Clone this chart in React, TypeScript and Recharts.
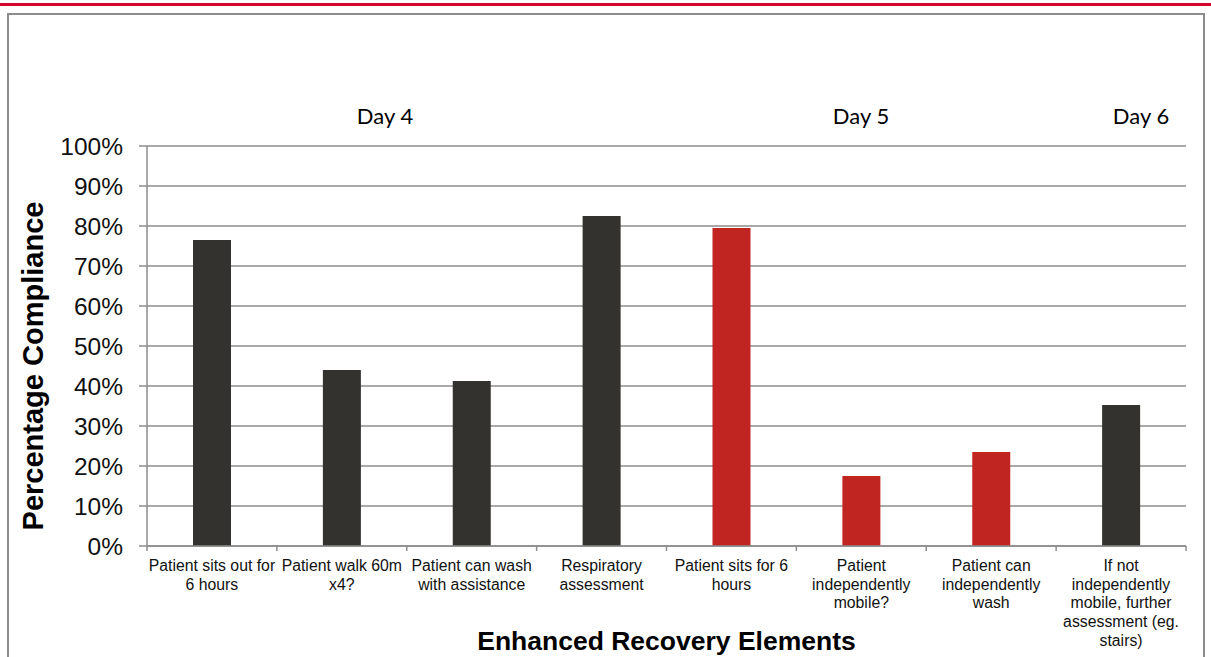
import React from 'react';
import { BarChart, Bar, Cell, XAxis, YAxis, CartesianGrid } from 'recharts';

// Compliance per enhanced-recovery element, grouped by post-op day
const categories = [
  'Patient sits out for 6 hours',
  'Patient walk 60m x4?',
  'Patient can wash with assistance',
  'Respiratory assessment',
  'Patient sits for 6 hours',
  'Patient independently mobile?',
  'Patient can independently wash',
  'If not independently mobile, further assessment (eg. stairs)',
];
const tickLines = [
  ['Patient sits out for', '6 hours'],
  ['Patient walk 60m', 'x4?'],
  ['Patient can wash', 'with assistance'],
  ['Respiratory', 'assessment'],
  ['Patient sits for 6', 'hours'],
  ['Patient', 'independently', 'mobile?'],
  ['Patient can', 'independently', 'wash'],
  ['If not', 'independently', 'mobile, further', 'assessment (eg.', 'stairs)'],
];
const compliance = [76.5, 44, 41.25, 82.5, 79.5, 17.5, 23.5, 35.25];
const day = ['Day 4', 'Day 4', 'Day 4', 'Day 4', 'Day 5', 'Day 5', 'Day 5', 'Day 6'];
const yTicks = [0, 10, 20, 30, 40, 50, 60, 70, 80, 90, 100];

const DAY_COLORS: Record<string, string> = {
  'Day 4': '#33322e',
  'Day 5': '#c02522',
  'Day 6': '#33322e',
};

const data = categories.map((name, i) => ({ name, value: compliance[i], day: day[i] }));

const W = 1211;
const H = 657;
const PLOT_LEFT = 147;
const PLOT_RIGHT = 1186;
const PLOT_TOP = 146;
const PLOT_BOTTOM = 546;
const BAND = (PLOT_RIGHT - PLOT_LEFT) / categories.length;
const GRID = '#8c8c8c';
const FONT = '"Liberation Sans", Arial, sans-serif';

const CategoryTick = (props: any) => {
  const { x, y, payload } = props;
  const idx = categories.indexOf(payload.value);
  const lines = tickLines[idx] || [payload.value];
  return (
    <g>
      <line x1={x - BAND / 2} y1={y} x2={x - BAND / 2} y2={y + 5} stroke={GRID} strokeWidth={1.5} />
      {idx === categories.length - 1 && (
        <line x1={x + BAND / 2} y1={y} x2={x + BAND / 2} y2={y + 5} stroke={GRID} strokeWidth={1.5} />
      )}
      <text x={x} y={y + 25} textAnchor="middle" fontSize={15.8} fontFamily={FONT} fill="#111">
        {lines.map((l, i) => (
          <tspan key={i} x={x} dy={i === 0 ? 0 : 18.7}>
            {l}
          </tspan>
        ))}
      </text>
    </g>
  );
};

const dayLabels = [
  { text: 'Day 4', x: 385 },
  { text: 'Day 5', x: 861 },
  { text: 'Day 6', x: 1141 },
];

export default function App() {
  return (
    <div style={{ position: 'absolute', left: 0, top: 0, width: W, height: H, background: '#fff', overflow: 'hidden' }}>
      <div style={{ position: 'absolute', left: 0, top: 3, width: W, height: 3, background: '#d4072f' }} />
      <div
        style={{
          position: 'absolute',
          left: 7,
          top: 13,
          width: 1198,
          height: 700,
          boxSizing: 'border-box',
          border: '2px solid #8c8c8c',
        }}
      />
      <BarChart
        width={W}
        height={H}
        data={data}
        margin={{ top: PLOT_TOP, right: W - PLOT_RIGHT, left: 0, bottom: 0 }}
        barSize={38}
        style={{ position: 'absolute', left: 0, top: 0 }}
      >
        <CartesianGrid vertical={false} stroke={GRID} strokeWidth={1.5} />
        <XAxis
          dataKey="name"
          interval={0}
          height={H - PLOT_BOTTOM}
          tickSize={0}
          tickMargin={0}
          axisLine={{ stroke: GRID, strokeWidth: 1.5 }}
          tick={<CategoryTick />}
          label={{
            content: (p: any) => {
              const vb = p.viewBox;
              return (
                <text
                  x={vb.x + vb.width / 2}
                  y={vb.y + 104}
                  textAnchor="middle"
                  fontSize={26.5}
                  fontWeight="bold"
                  fontFamily={FONT}
                  fill="#000"
                >
                  Enhanced Recovery Elements
                </text>
              );
            },
          }}
        />
        <YAxis
          width={PLOT_LEFT}
          domain={[0, 100]}
          ticks={yTicks}
          interval={0}
          tickFormatter={(v: number) => `${v}%`}
          tickSize={8}
          tickMargin={16}
          tickLine={{ stroke: GRID, strokeWidth: 1.5 }}
          axisLine={{ stroke: GRID, strokeWidth: 1.5 }}
          tick={{ fontSize: 24.5, fontFamily: FONT, fill: '#111' }}
          label={{
            content: (p: any) => {
              const vb = p.viewBox;
              const cx = vb.x + 43;
              const cy = vb.y + vb.height / 2 + 20;
              return (
                <text
                  x={cx}
                  y={cy}
                  transform={`rotate(-90, ${cx}, ${cy})`}
                  textAnchor="middle"
                  fontSize={29}
                  fontWeight="bold"
                  fontFamily={FONT}
                  fill="#000"
                >
                  Percentage Compliance
                </text>
              );
            },
          }}
        />
        <Bar dataKey="value" isAnimationActive={false}>
          {data.map((d, i) => (
            <Cell key={i} fill={DAY_COLORS[d.day]} />
          ))}
        </Bar>
      </BarChart>
      {dayLabels.map((d) => (
        <div
          key={d.text}
          style={{
            position: 'absolute',
            left: d.x - 60,
            width: 120,
            top: 102,
            textAlign: 'center',
            fontFamily: 'Lato, "Open Sans", sans-serif',
            fontSize: 22,
            color: '#000',
          }}
        >
          {d.text}
        </div>
      ))}
    </div>
  );
}
